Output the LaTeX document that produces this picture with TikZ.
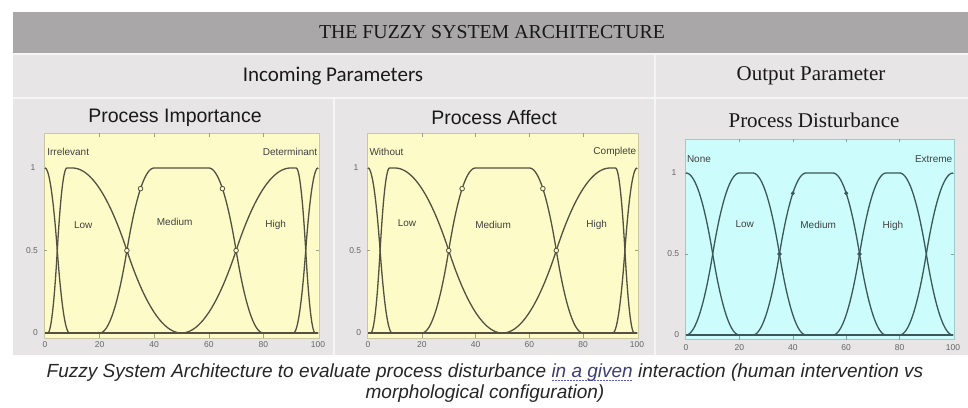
\documentclass[tikz,border=0pt]{standalone}
\usepackage{fontspec}
\setmainfont{Liberation Serif}
\setsansfont{Liberation Sans}
\newfontfamily\carlito{Carlito}
\definecolor{titlegray}{HTML}{A9A7A7}
\definecolor{bggray}{HTML}{E7E5E5}
\definecolor{divline}{HTML}{F6F6F6}
\definecolor{ybg}{HTML}{FDFCC9}
\definecolor{yborder}{HTML}{C9C8A2}
\definecolor{cbg}{HTML}{CDFCFC}
\definecolor{cborder}{HTML}{9FCACA}
\definecolor{ycurve}{HTML}{535140}
\definecolor{ccurve}{HTML}{3A5858}
\definecolor{ticktext}{HTML}{666666}
\definecolor{ulblue}{HTML}{5A5AD0}
\definecolor{lnkcol}{HTML}{3E3E78}
\newcommand\blueul[1]{\setbox0=\hbox{#1}\rlap{\color{ulblue}\raisebox{-3.5pt}{\hbox to \wd0{\leaders\hbox to 3pt{\hss\rule{1.8pt}{1.3pt}\hss}\hfill}}}\box0\relax}
\begin{document}
\begin{tikzpicture}[x=1pt,y=-1pt,
  declare function={
    smf(\x,\ua,\ub)=(\x<=\ua)?0:((\x<=(\ua+\ub)/2)?(2*((\x-\ua)/(\ub-\ua))^2):((\x<\ub)?(1-2*((\x-\ub)/(\ub-\ua))^2):1));
    zmf(\x,\ua,\ub)=1-smf(\x,\ua,\ub);
    pimf(\x,\ua,\ub,\uc,\ud)=smf(\x,\ua,\ub)*zmf(\x,\uc,\ud);
  },
  divl/.style={draw=divline, line width=2pt},
  ymf/.style={draw=ycurve, line width=1.3pt},
  cmf/.style={draw=ccurve, line width=1.3pt},
  zeroline/.style={line width=1.9pt},
  ticklab/.style={font=\sffamily\fontsize{8.5}{9}\selectfont, text=ticktext, inner sep=0pt},
  mflab/.style={font=\sffamily\fontsize{10}{11}\selectfont, text=black!75, inner sep=0pt},
  ptitle/.style={font=\sffamily\fontsize{19.5}{21}\selectfont, text=black!90, inner sep=0pt},
  stitle/.style={font=\fontsize{21}{23}\selectfont, text=black!90, inner sep=0pt},
  mark1/.style={draw=ycurve, line width=0.8pt, fill=ybg},
  mark3/.style={draw=ccurve, line width=0.8pt, fill=ccurve},
  tickm/.style={draw=yborder!80!black, line width=0.4pt},
]
\useasboundingbox (0,0) rectangle (968,407);
\fill[white] (0,0) rectangle (968,407);
% backgrounds
\fill[bggray] (13,12) rectangle (968,355);
\fill[titlegray] (13,12) rectangle (968,53);
\draw[divl] (13,54) -- (968,54);
\draw[divl] (13,97.5) -- (968,97.5);
\draw[divl] (655,54) -- (655,355);
\draw[divl] (334,97.5) -- (334,355);
% headings
\node[stitle, font=\fontsize{19.8}{21}\selectfont] (title) at (492,32.5) {THE FUZZY SYSTEM ARCHITECTURE};
\node[font=\carlito\fontsize{21}{23}\selectfont, text=black!90, inner sep=0pt] (incoming) at (333,76) {Incoming Parameters};
\node[stitle] (output) at (811,76) {Output Parameter};
\node[ptitle] (t1) at (175,118) {Process Importance};
\node[ptitle] (t2) at (494,118) {Process Affect};
\node[stitle] (t3) at (814,120) {Process Disturbance};

% ---------- plot 1 ----------
\begin{scope}[shift={(45,333)}, x=2.73pt, y=165pt]
  \fill[ybg, draw=yborder, line width=0.8pt] (-0.4,-0.03) rectangle (100.4,1.21);
  \foreach \t in {20,40,60,80} {\draw[tickm] (\t,-0.03) -- (\t,0.0); \draw[tickm] (\t,1.21) -- (\t,1.19);}
  \foreach \t in {0.5,1} {\draw[tickm] (-0.4,\t) -- (0.6,\t); \draw[tickm] (100.4,\t) -- (99.4,\t);}
  \foreach \t in {0,20,40,60,80,100} {\node[ticklab, anchor=north] (xa\t) at (\t,-0.05) {\t};}
  \node[ticklab, anchor=east] (ya0) at (-2.5,0) {0};
  \node[ticklab, anchor=east] (ya5) at (-2.5,0.5) {0.5};
  \node[ticklab, anchor=east] (ya1) at (-3.5,1) {1};
  \draw[ycurve, zeroline] (0,0) -- (100,0);
  \draw[ymf] plot[domain=0:100, samples=401] (\x,{zmf(\x,0,9)});
  \draw[ymf] plot[domain=0:100, samples=401] (\x,{pimf(\x,1,8,10,50)});
  \draw[ymf] plot[domain=0:100, samples=401] (\x,{pimf(\x,20,40,60,80)});
  \draw[ymf] plot[domain=0:100, samples=401] (\x,{pimf(\x,50,90,92,99)});
  \draw[ymf] plot[domain=0:100, samples=401] (\x,{smf(\x,91,100)});
  \foreach \px/\py in {30/0.5,35/0.875,65/0.875,70/0.5} {\draw[mark1] (\px,\py) circle[radius=2.3pt];}
  \node[mflab, anchor=west] (irr) at (0.8,1.1) {Irrelevant};
  \node[mflab, anchor=east] (det) at (99.8,1.1) {Determinant};
  \node[mflab] (low1) at (14,0.655) {Low};
  \node[mflab] (med1) at (47.5,0.675) {Medium};
  \node[mflab] (high1) at (84.5,0.655) {High};
\end{scope}

% ---------- plot 2 ----------
\begin{scope}[shift={(368,333)}, x=2.69pt, y=165pt]
  \fill[ybg, draw=yborder, line width=0.8pt] (-0.4,-0.03) rectangle (100.4,1.21);
  \foreach \t in {20,40,60,80} {\draw[tickm] (\t,-0.03) -- (\t,0.0); \draw[tickm] (\t,1.21) -- (\t,1.19);}
  \foreach \t in {0.5,1} {\draw[tickm] (-0.4,\t) -- (0.6,\t); \draw[tickm] (100.4,\t) -- (99.4,\t);}
  \foreach \t in {0,20,40,60,80,100} {\node[ticklab, anchor=north] (xb\t) at (\t,-0.05) {\t};}
  \node[ticklab, anchor=east] (yb0) at (-2.5,0) {0};
  \node[ticklab, anchor=east] (yb5) at (-2.5,0.5) {0.5};
  \node[ticklab, anchor=east] (yb1) at (-3.5,1) {1};
  \draw[ycurve, zeroline] (0,0) -- (100,0);
  \draw[ymf] plot[domain=0:100, samples=401] (\x,{zmf(\x,0,9)});
  \draw[ymf] plot[domain=0:100, samples=401] (\x,{pimf(\x,1,8,10,50)});
  \draw[ymf] plot[domain=0:100, samples=401] (\x,{pimf(\x,20,40,60,80)});
  \draw[ymf] plot[domain=0:100, samples=401] (\x,{pimf(\x,50,90,92,99)});
  \draw[ymf] plot[domain=0:100, samples=401] (\x,{smf(\x,91,100)});
  \foreach \px/\py in {30/0.5,35/0.875,65/0.875,70/0.5} {\draw[mark1] (\px,\py) circle[radius=2.3pt];}
  \node[mflab, anchor=west] (wo) at (0.5,1.1) {Without};
  \node[mflab, anchor=east] (comp) at (99.8,1.1) {Complete};
  \node[mflab] (low2) at (14.5,0.665) {Low};
  \node[mflab] (med2) at (46.5,0.655) {Medium};
  \node[mflab] (high2) at (85,0.655) {High};
\end{scope}

% ---------- plot 3 ----------
\begin{scope}[shift={(686,335)}, x=2.67pt, y=162pt]
  \fill[cbg, draw=cborder, line width=0.8pt] (-0.4,-0.03) rectangle (100.4,1.21);
  \foreach \t in {20,40,60,80} {\draw[tickm, draw=cborder!80!black] (\t,-0.03) -- (\t,0.0); \draw[tickm, draw=cborder!80!black] (\t,1.21) -- (\t,1.19);}
  \foreach \t in {0.5,1} {\draw[tickm, draw=cborder!80!black] (-0.4,\t) -- (0.6,\t); \draw[tickm, draw=cborder!80!black] (100.4,\t) -- (99.4,\t);}
  \foreach \t in {0,20,40,60,80,100} {\node[ticklab, anchor=north] (xc\t) at (\t,-0.06) {\t};}
  \node[ticklab, anchor=east] (yc0) at (-2.5,0) {0};
  \node[ticklab, anchor=east] (yc5) at (-2.5,0.5) {0.5};
  \node[ticklab, anchor=east] (yc1) at (-3.5,1) {1};
  \draw[ccurve, zeroline] (0,0) -- (100,0);
  \draw[cmf] plot[domain=0:100, samples=401] (\x,{zmf(\x,0,20)});
  \draw[cmf] plot[domain=0:100, samples=401] (\x,{pimf(\x,0,20,25,45)});
  \draw[cmf] plot[domain=0:100, samples=401] (\x,{pimf(\x,25,45,55,75)});
  \draw[cmf] plot[domain=0:100, samples=401] (\x,{pimf(\x,55,75,80,100)});
  \draw[cmf] plot[domain=0:100, samples=401] (\x,{smf(\x,80,100)});
  \foreach \px/\py in {40/0.875,60/0.875} {\draw[mark3] (\px,\py) circle[radius=1.5pt];}
  \foreach \px/\py in {35/0.5,65/0.5} {\draw[mark3] (\px,\py) circle[radius=1.8pt];}
  \node[mflab, anchor=west] (none) at (0.3,1.085) {None};
  \node[mflab, anchor=east] (ext) at (99.8,1.085) {Extreme};
  \node[mflab] (low3) at (22,0.685) {Low};
  \node[mflab] (med3) at (49.5,0.68) {Medium};
  \node[mflab] (high3) at (77.5,0.675) {High};
\end{scope}

% caption
\node[font=\sffamily\itshape\fontsize{19}{21}\selectfont, text=black!85, align=center, inner sep=0pt] (cap) at (485,383)
  {Fuzzy System Architecture to evaluate process disturbance \blueul{\textcolor{lnkcol}{in a given}} interaction (human intervention vs\\ morphological configuration)};
\end{tikzpicture}
\end{document}
